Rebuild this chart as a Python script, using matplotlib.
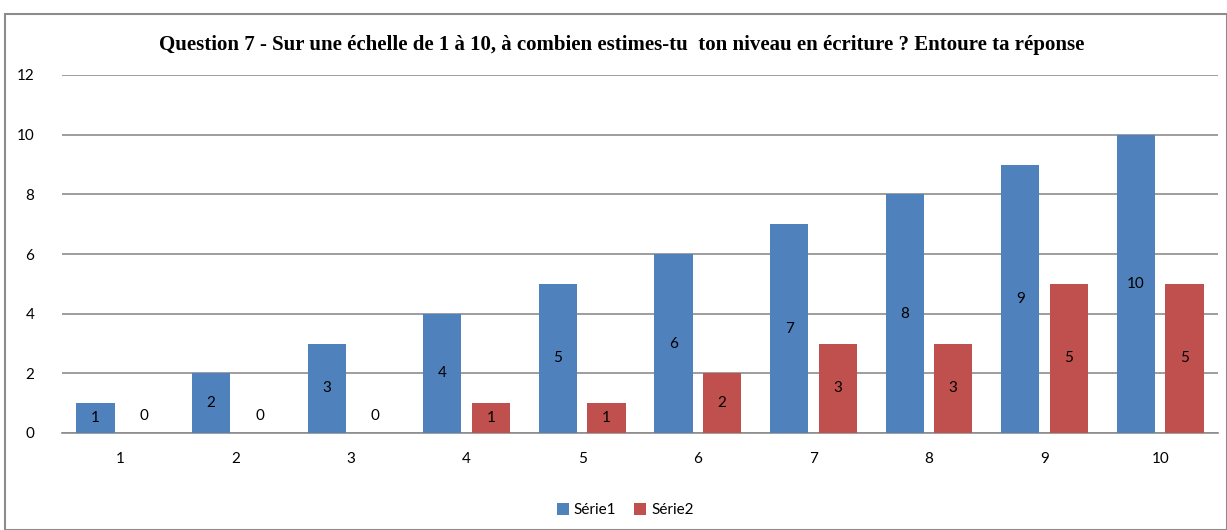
import matplotlib
matplotlib.use("Agg")
import matplotlib.pyplot as plt
from matplotlib.patches import Rectangle
import numpy as np

categories = ["1", "2", "3", "4", "5", "6", "7", "8", "9", "10"]
serie1 = [1, 2, 3, 4, 5, 6, 7, 8, 9, 10]
serie2 = [0, 0, 0, 1, 1, 2, 3, 3, 5, 5]
series_names = ["Série1", "Série2"]
title = "Question 7 - Sur une échelle de 1 à 10, à combien estimes-tu  ton niveau en écriture ? Entoure ta réponse"

blue = "#4F81BD"
red = "#C0504D"

fig = plt.figure(figsize=(12.27, 5.30), dpi=100)
ax = fig.add_axes([62/1227, 1-433/530, (1218-62)/1227, (433-75)/530])

x = np.arange(len(categories))
w = 0.33
off = 0.21
b1 = ax.bar(x - off, serie1, w, color=blue, label=series_names[0], zorder=3)
b2 = ax.bar(x + off, serie2, w, color=red, label=series_names[1], zorder=3)

lab_font = "Lato"
fs = 11
for xs, vals in ((x - off, serie1), (x + off, serie2)):
    for xi, v in zip(xs, vals):
        y = v / 2 if v > 0 else 0.57
        ax.text(xi, y, str(v), ha="center", va="center", fontsize=fs,
                family=lab_font, color="black", zorder=4)

ax.set_xlim(-0.5, len(categories) - 0.5)
ax.set_ylim(0, 12)
ax.set_yticks(range(0, 13, 2))
ax.set_xticks(x)
ax.set_xticklabels(categories)
for lbl in ax.get_xticklabels() + ax.get_yticklabels():
    lbl.set_family(lab_font)
    lbl.set_fontsize(fs)
ax.tick_params(axis="both", length=0)
ax.tick_params(axis="x", pad=14)
ax.tick_params(axis="y", pad=20)
ax.grid(axis="y", color="#8C8C8C", linewidth=1.2, zorder=0)
ax.set_axisbelow(True)
for s in ["top", "right", "left"]:
    ax.spines[s].set_visible(False)
ax.spines["bottom"].set_color("#8C8C8C")
ax.spines["bottom"].set_linewidth(1.2)

fig.text(622/1227, 1-45/530, title, ha="center", va="center",
         fontsize=15, fontweight="bold", family="Liberation Serif")

leg = fig.legend(loc="center", bbox_to_anchor=(625/1227, 1-510/530), ncol=2,
                 frameon=False, prop={"family": lab_font, "size": fs},
                 handlelength=0.8, handleheight=0.8, handletextpad=0.3,
                 columnspacing=1.2)

fig.patches.append(Rectangle((5/1227, 0), 1 - 5/1227, 1 - 14/530,
                             transform=fig.transFigure, fill=False,
                             edgecolor="#8C8C8C", linewidth=1.5))

fig.savefig("out.png", dpi=100)
